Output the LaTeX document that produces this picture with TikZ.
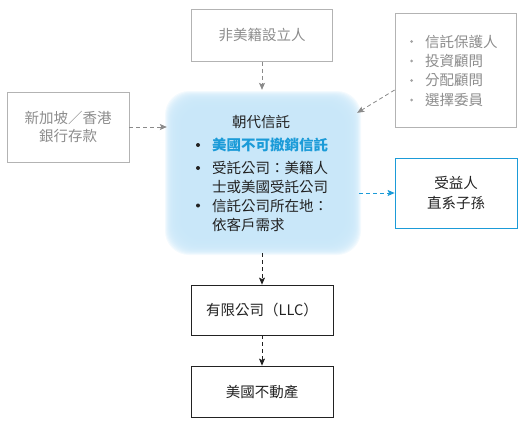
\documentclass[tikz,border=0pt]{standalone}
\usepackage{fontspec}
\setmainfont{Liberation Serif}
\newfontfamily\cjk{Noto Sans CJK TC}
\usetikzlibrary{arrows.meta}
\definecolor{bordergray}{HTML}{B3B3B3}
\definecolor{textgray}{HTML}{8C8C8C}
\definecolor{arrowgray}{HTML}{8A8A8A}
\definecolor{tblue}{HTML}{1B9BD8}
\definecolor{blobc}{HTML}{C9E7F9}
\definecolor{ink}{HTML}{222222}
\tikzset{
  basefont/.style={font=\cjk\fontsize{14.5}{19.5}\selectfont},
  graybox/.style={draw=bordergray, line width=0.8pt, text=textgray, basefont, align=center, inner sep=0pt},
  blackbox/.style={draw=ink, line width=0.8pt, text=ink, basefont, align=center, inner sep=0pt},
  bluebox/.style={draw=tblue, line width=0.8pt, text=ink, basefont, align=center, inner sep=0pt},
  graytxt/.style={text=textgray, basefont, inner sep=0pt, anchor=west},
  inktxt/.style={text=ink, basefont, inner sep=0pt, anchor=west},
  inkbul/.style={circle, fill=ink, inner sep=0pt, minimum size=4pt},
  graybul/.style={circle, fill=textgray!80, inner sep=0pt, minimum size=3pt},
  darr/.style={line width=0.8pt, dash pattern=on 4pt off 3pt, -{Stealth[length=7pt,width=6pt,inset=1.5pt]}},
}
\begin{document}
\begin{tikzpicture}[x=1pt,y=-1pt]
\useasboundingbox (0,0) rectangle (526,425);
% soft blob
\foreach \i in {0,...,19}
  \fill[blobc, opacity=0.2, rounded corners=24pt] (165+\i*0.8, 91+\i*0.8) rectangle (361-\i*0.8, 255-\i*0.8);
\fill[blobc, rounded corners=18pt] (181,107) rectangle (345,239);
\node[minimum width=192pt, minimum height=163pt, inner sep=0pt] (trust) at (263,171.5) {};

% boxes
\node[graybox, minimum width=141pt, minimum height=52pt] (setup) at (262,35.5) {非美籍設立人};
\node[graybox, minimum width=121pt, minimum height=114pt] (advisors) at (455.5,70) {};
\node[graybox, minimum width=122pt, minimum height=70pt, font=\cjk\fontsize{14.5}{18.5}\selectfont] (bank) at (68,127) {新加坡／香港\\銀行存款};
\node[bluebox, minimum width=122pt, minimum height=70pt, font=\cjk\fontsize{14.5}{20}\selectfont] (benef) at (456,193) {受益人\\直系子孫};
\node[blackbox, minimum width=142pt, minimum height=50pt] (llc) at (262,310) {有限公司（LLC）};
\node[blackbox, minimum width=142pt, minimum height=51pt] (re) at (262,391.5) {美國不動產};

% advisors list
\foreach \y/\t/\n in {41.5/信託保護人/a1, 61/投資顧問/a2, 80.5/分配顧問/a3, 100/選擇委員/a4} {
  \node[graybul] (\n b) at (411.5,\y) {};
  \node[graytxt] (\n) at (425,\y) {\t};
}

% trust content
\node[inktxt, anchor=center] (ttitle) at (261,121.5) {朝代信託};
\node[inkbul] (b1) at (198,145) {};
\node[inktxt, text=tblue, font=\cjk\bfseries\fontsize{14.5}{19.5}\selectfont] (t1) at (212,145) {美國不可撤銷信託};
\node[inkbul] (b2) at (198,168) {};
\node[inktxt] (t2) at (212,168) {受託公司：美籍人};
\node[inktxt] (t3) at (212,186.5) {士或美國受託公司};
\node[inkbul] (b3) at (198,205.5) {};
\node[inktxt] (t4) at (212,205.5) {信託公司所在地：};
\node[inktxt] (t5) at (212,225) {依客戶需求};

% connectors
\draw[darr, arrowgray] (setup.south) -- (setup.south |- trust.north);
\draw[darr, arrowgray] ([yshift=-20pt]advisors.west) -- ([yshift=-23pt,xshift=-2pt]trust.north east);
\draw[darr, arrowgray] (bank.east) -- (bank.east -| trust.west);
\draw[darr, tblue] (trust.east |- benef.west) -- (benef.west);
\draw[darr, ink] (trust.south -| llc.north) -- (llc.north);
\draw[darr, ink] (llc.south) -- (re.north);
\end{tikzpicture}
\end{document}
